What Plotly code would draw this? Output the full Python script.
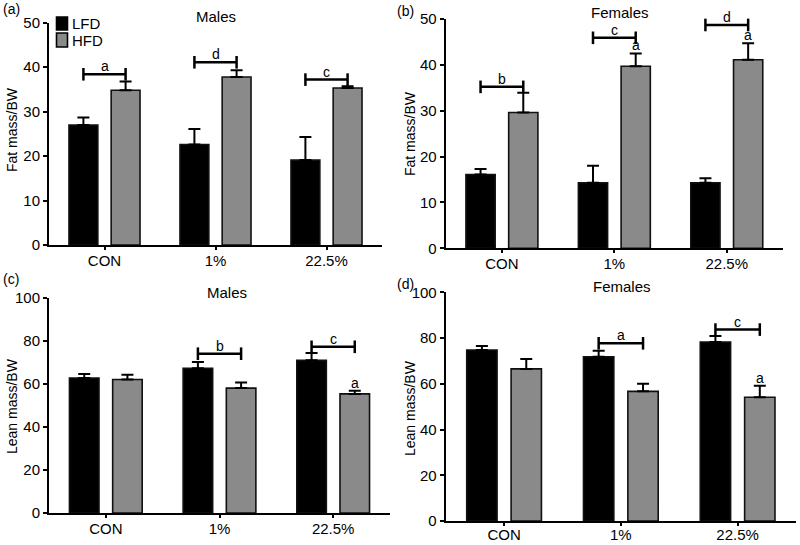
import plotly.graph_objects as go

categories = ["CON", "1%", "22.5%"]
series_names = ["LFD", "HFD"]

# Panel (a) Fat mass / BW, males
fat_m_lfd = [27.0, 22.6, 19.1]
fat_m_lfd_err = [1.7, 3.5, 5.2]
fat_m_hfd = [34.8, 37.8, 35.3]
fat_m_hfd_err = [2.0, 1.5, 0.4]
# Panel (b) Fat mass / BW, females
fat_f_lfd = [16.1, 14.3, 14.3]
fat_f_lfd_err = [1.2, 3.7, 1.0]
fat_f_hfd = [29.6, 39.7, 41.1]
fat_f_hfd_err = [4.3, 2.8, 3.6]
# Panel (c) Lean mass / BW, males
lean_m_lfd = [62.8, 67.3, 71.0]
lean_m_lfd_err = [1.9, 2.9, 3.4]
lean_m_hfd = [62.1, 58.1, 55.4]
lean_m_hfd_err = [2.2, 2.6, 1.5]
# Panel (d) Lean mass / BW, females
lean_f_lfd = [74.8, 71.8, 78.3]
lean_f_lfd_err = [1.7, 2.6, 2.6]
lean_f_hfd = [66.5, 56.7, 54.1]
lean_f_hfd_err = [4.3, 3.3, 5.0]

# significance brackets: (category index, level, letter)
fat_m_brackets = [(0, 38.4, "a"), (1, 41.1, "d"), (2, 37.2, "c")]
fat_f_brackets = [(0, 35.2, "b"), (1, 45.9, "c"), (2, 48.7, "d")]
lean_m_brackets = [(1, 74.1, "b"), (2, 77.3, "c")]
lean_f_brackets = [(1, 77.7, "a"), (2, 83.7, "c")]
# letters above HFD bars: (category index, letter)
fat_f_marks = [(1, "a"), (2, "a")]
lean_m_marks = [(2, "a")]
lean_f_marks = [(2, "a")]

W, H = 800, 545
FONT = "Liberation Sans, Arial, sans-serif"
LFD_COLOR = "#000000"
HFD_COLOR = "#8a8a8a"
BAR_OFFSET = 0.19

panels = [
    dict(key="", lfd=fat_m_lfd, lfd_err=fat_m_lfd_err, hfd=fat_m_hfd, hfd_err=fat_m_hfd_err,
         br=fat_m_brackets, marks=[], ymax=50, dtick=10, title="Males", ytitle="Fat mass/BW",
         label="(a)", xd=(49, 382), yd=(245, 22.7), title_xy=(216, 16), ylab_xy=(12, 130), lab_xy=(11, 9),
         standoff=-2),
    dict(key="2", lfd=fat_f_lfd, lfd_err=fat_f_lfd_err, hfd=fat_f_hfd, hfd_err=fat_f_hfd_err,
         br=fat_f_brackets, marks=fat_f_marks, ymax=50, dtick=10, title="Females", ytitle="Fat mass/BW",
         label="(b)", xd=(445.7, 783), yd=(248.3, 19), title_xy=(620, 12), ylab_xy=(410, 133), lab_xy=(405, 11),
         standoff=-2),
    dict(key="3", lfd=lean_m_lfd, lfd_err=lean_m_lfd_err, hfd=lean_m_hfd, hfd_err=lean_m_hfd_err,
         br=lean_m_brackets, marks=lean_m_marks, ymax=100, dtick=20, title="Males", ytitle="Lean mass/BW",
         label="(c)", xd=(49, 390), yd=(513, 298), title_xy=(227, 292), ylab_xy=(12, 406), lab_xy=(11, 279),
         standoff=-2),
    dict(key="4", lfd=lean_f_lfd, lfd_err=lean_f_lfd_err, hfd=lean_f_hfd, hfd_err=lean_f_hfd_err,
         br=lean_f_brackets, marks=lean_f_marks, ymax=100, dtick=20, title="Females", ytitle="Lean mass/BW",
         label="(d)", xd=(445.7, 796), yd=(521, 292.3), title_xy=(622, 286), ylab_xy=(410, 408), lab_xy=(405, 284),
         standoff=-4),
]

fig = go.Figure()
annotations = []
shapes = []
xpos = list(range(len(categories)))

for i, p in enumerate(panels):
    xa, ya = "x" + p["key"], "y" + p["key"]
    for name, vals, errs, col in [("LFD", p["lfd"], p["lfd_err"], LFD_COLOR),
                                  ("HFD", p["hfd"], p["hfd_err"], HFD_COLOR)]:
        fig.add_trace(go.Bar(
            x=xpos, y=vals, name=name, xaxis=xa, yaxis=ya,
            marker=dict(color=col, line=dict(color="#111111", width=1.6)),
            error_y=dict(type="data", array=errs, arrayminus=[0] * len(errs), symmetric=False,
                         color="#000000", thickness=2, width=6),
            showlegend=False, legendgroup=name,
        ))
    for ci, lvl, letter in p["br"]:
        fig.add_trace(go.Scatter(
            x=[ci - BAR_OFFSET, ci + BAR_OFFSET], y=[lvl, lvl], xaxis=xa, yaxis=ya,
            mode="lines+markers", line=dict(color="#000000", width=2.5),
            marker=dict(symbol="line-ns", size=9, line=dict(color="#000000", width=2.5)),
            showlegend=False, hoverinfo="skip", cliponaxis=False,
        ))
        annotations.append(dict(x=ci, y=lvl, xref=xa, yref=ya, text=letter, showarrow=False,
                                yanchor="bottom", yshift=-2, font=dict(size=14, color="#000", family=FONT)))
    for ci, letter in p["marks"]:
        top = p["hfd"][ci] + p["hfd_err"][ci]
        annotations.append(dict(x=ci + BAR_OFFSET, y=top, xref=xa, yref=ya, text=letter, showarrow=False,
                                yanchor="bottom", yshift=-2, font=dict(size=14, color="#000", family=FONT)))
    tx, ty = p["title_xy"]
    annotations.append(dict(x=tx / W, y=1 - ty / H, xref="paper", yref="paper", text=p["title"],
                            showarrow=False, xanchor="center", yanchor="middle",
                            font=dict(size=15, color="#000", family=FONT)))
    lx, ly = p["ylab_xy"]
    annotations.append(dict(x=lx / W, y=1 - ly / H, xref="paper", yref="paper", text=p["ytitle"],
                            showarrow=False, textangle=-90, xanchor="center", yanchor="middle",
                            font=dict(size=14, color="#000", family=FONT)))
    px, py = p["lab_xy"]
    annotations.append(dict(x=px / W, y=1 - py / H, xref="paper", yref="paper", text=p["label"],
                            showarrow=False, xanchor="center", yanchor="middle",
                            font=dict(size=14, color="#000", family=FONT)))

    axis_common = dict(showline=True, linecolor="#000000", linewidth=2, ticks="outside",
                       tickcolor="#000000", tickwidth=2, showgrid=False, zeroline=False,
                       automargin=False,
                       tickfont=dict(size=15, color="#000", family=FONT))
    xname = "xaxis" + p["key"]
    yname = "yaxis" + p["key"]
    x0, x1 = p["xd"]
    yb, yt = p["yd"]
    fig.update_layout(**{
        xname: dict(domain=[x0 / W, x1 / W], anchor=ya, range=[-0.5, len(categories) - 0.5],
                    tickmode="array", tickvals=xpos, ticktext=categories, ticklen=3,
                    ticklabelstandoff=p["standoff"], fixedrange=True, **axis_common),
        yname: dict(domain=[1 - yb / H, 1 - yt / H], anchor=xa, range=[0, p["ymax"]],
                    dtick=p["dtick"], ticklen=4, fixedrange=True, **axis_common),
    })

# legend drawn manually (panel a)
legend_items = [("LFD", LFD_COLOR, 17, 30), ("HFD", HFD_COLOR, 33, 47)]
for name, col, y0, y1 in legend_items:
    shapes.append(dict(type="rect", xref="paper", yref="paper",
                       x0=56.5 / W, x1=67.5 / W, y0=1 - y1 / H, y1=1 - y0 / H,
                       fillcolor=col, line=dict(color="#000000", width=1.6)))
    annotations.append(dict(x=70 / W, y=1 - ((y0 + y1) / 2) / H, xref="paper", yref="paper",
                            text=name, showarrow=False, xanchor="left", yanchor="middle",
                            font=dict(size=15, color="#000", family=FONT)))

fig.update_layout(
    width=W, height=H,
    margin=dict(l=0, r=0, t=0, b=0, autoexpand=False),
    paper_bgcolor="white", plot_bgcolor="white",
    barmode="group", bargap=0.24, bargroupgap=0.316,
    font=dict(family=FONT, color="#000"),
    annotations=annotations, shapes=shapes,
    showlegend=False,
)

fig.write_html("out.html", config={"displayModeBar": False},
               post_script="document.body.style.margin='0';document.body.style.padding='0';"
                           "document.body.style.overflow='hidden';")
